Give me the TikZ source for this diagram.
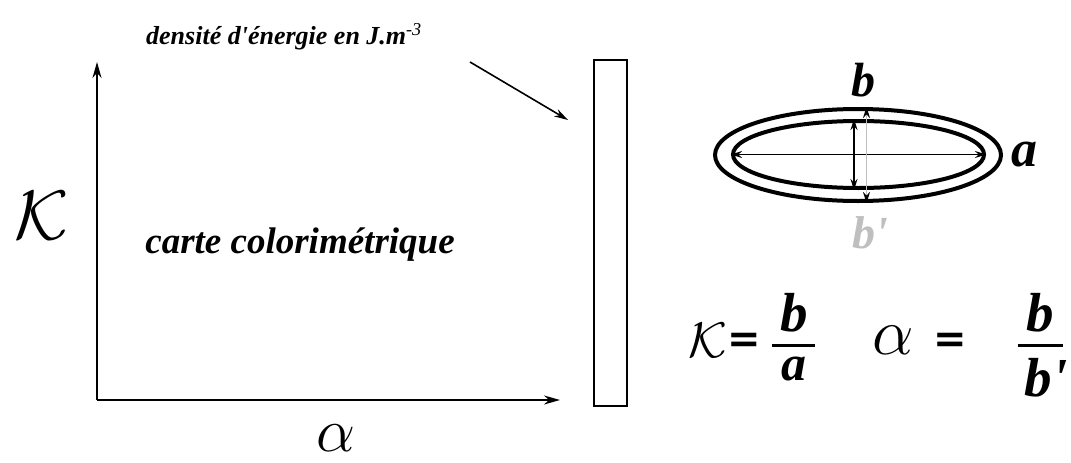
\documentclass[tikz,border=0pt]{standalone}
\usepackage{fix-cm}
\usepackage{fontspec}
\setmainfont{Liberation Serif}
\newfontfamily\eqfont{DejaVu Sans}
\usetikzlibrary{arrows.meta, shapes.geometric}

\begin{document}
\begin{tikzpicture}[x=1pt, y=-1pt,
  script/.style={font=\bfseries\itshape, inner sep=0pt},
  axis/.style={line width=1.8pt, -{Stealth[length=16pt, width=9pt]}},
  ring/.style={draw, ellipse, line width=4pt, inner sep=0pt},
  span/.style={line width=1.6pt, {Stealth[length=11pt, width=7pt]}-{Stealth[length=11pt, width=7pt]}},
  eqsign/.style={font=\eqfont\bfseries\fontsize{40}{42}\selectfont, inner sep=0pt},
  fracbar/.style={line width=3pt}]
  \useasboundingbox (0,0) rectangle (1071,463);

  % axes of the map
  \coordinate (origin) at (97,400);
  \coordinate (ytip) at (97,62);
  \coordinate (xtip) at (560,400);
  \draw[axis] (origin) -- (ytip);
  \draw[axis] (origin) -- (xtip);
  \node (kaxis) at (42,216) {\fontsize{70}{74}\selectfont$\mathcal{K}$};
  \node (aaxis) at (336,438) {\fontsize{62}{66}\selectfont$\alpha$};
  \node[script] (map) at (300,245) {\fontsize{37}{42}\selectfont carte colorimétrique};

  % colour bar
  \node[draw, line width=1.5pt, minimum width=33pt, minimum height=346pt, inner sep=0pt] (bar) at (610.5,233) {};
  \node[script] (dens) at (284,37) {\fontsize{26}{30}\selectfont densité d\textquotesingle énergie en J.m\textsuperscript{\mdseries -3}};
  \coordinate (dstart) at (470,62);
  \coordinate (dend) at (568,120);
  \draw[line width=1.6pt, -{Stealth[length=14pt, width=8pt]}] (dstart) -- (dend);

  % ellipse
  \node[ring, minimum width=286pt, minimum height=92pt] (outer) at (858,155) {};
  \node[ring, minimum width=251pt, minimum height=67pt] (inner) at (858.5,154.5) {};
  \draw[span] (inner.west) -- (inner.east);
  \draw[span] ([xshift=-4.5pt]inner.north) -- ([xshift=-4.5pt]inner.south);
  \draw[line width=1.8pt, black!25, {Stealth[length=11pt, width=7pt, black]}-{Stealth[length=11pt, width=7pt, black]}] ([xshift=8.5pt]outer.north) -- ([xshift=8.5pt]outer.south);
  \node[script] (blab) at (863,80) {\fontsize{48}{50}\selectfont b};
  \node[script, right=8pt] (alab) at (outer.east) {\fontsize{52}{54}\selectfont a};
  \node[script, text=black!25] (bplab) at (870,233) {\fontsize{46}{48}\selectfont b\textquotesingle};

  % definitions
  \node (kdef) at (708,340) {\fontsize{50}{54}\selectfont$\mathcal{K}$};
  \node[eqsign] (keq) at (744,343) {=};
  \node[script] (knum) at (794,313) {\fontsize{55}{57}\selectfont b};
  \node[script] (kden) at (794,369) {\fontsize{50}{52}\selectfont a};
  \draw[fracbar] (772,345) -- (815,345);
  \node (adef) at (893,340) {\fontsize{66}{70}\selectfont$\alpha$};
  \node[eqsign] (aeq) at (950,343) {=};
  \node[script] (anum) at (1040,313) {\fontsize{55}{57}\selectfont b};
  \node[script] (aden) at (1046,378) {\fontsize{55}{57}\selectfont b\textquotesingle};
  \draw[fracbar] (1018,345) -- (1063,345);
\end{tikzpicture}
\end{document}
